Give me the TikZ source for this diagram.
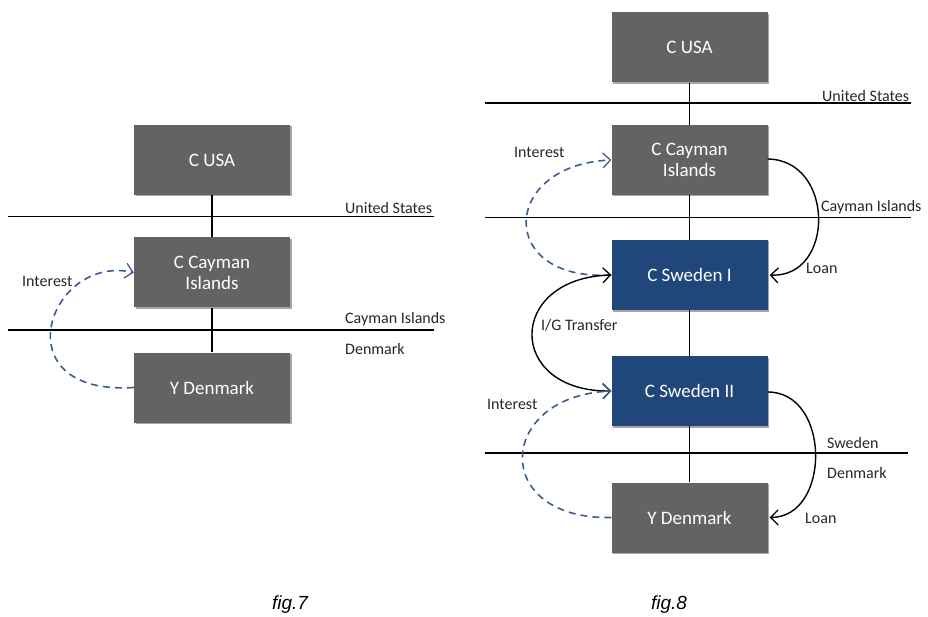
\documentclass[tikz,border=0pt]{standalone}
\usepackage{fontspec}
\setmainfont{Carlito}
\newfontfamily\capfont{Liberation Sans}
\usetikzlibrary{arrows.meta,shadows}
\definecolor{boxgray}{HTML}{636363}
\definecolor{boxblue}{HTML}{214679}
\definecolor{dashblue}{HTML}{3A5D92}
\begin{document}
\begin{tikzpicture}[x=1pt,y=-1pt,
  ent/.style={rectangle, minimum width=156pt, minimum height=70pt, inner sep=0pt,
    text=white, font=\fontsize{19}{21}\selectfont, align=center,
    drop shadow={shadow xshift=1.5pt, shadow yshift=-1.5pt, opacity=0.35, fill=black}},
  grayent/.style={ent, fill=boxgray},
  blueent/.style={ent, fill=boxblue},
  lbl/.style={anchor=west, inner sep=0pt, font=\fontsize{16}{18}\selectfont, text=black!85},
  border/.style={line width=1.4pt, black},
  link/.style={line width=1.4pt, black},
  tip/.style={-{Straight Barb[length=7.5pt,width=15pt,line width=1.3pt]}},
  flowd/.style={line width=1.6pt, dashblue, dash pattern=on 7pt off 5pt, tip},
  flows/.style={line width=1.4pt, black, tip},
  figcap/.style={font=\capfont\itshape\fontsize{19}{21}\selectfont}
]
\useasboundingbox (0,0) rectangle (928,617);

% ---------- fig.7 ----------
\coordinate (a1l) at (8,216.5);  \coordinate (a1r) at (434,216.5);
\coordinate (a2l) at (8,330);    \coordinate (a2r) at (434,330);
\draw[border] (a1l) -- (a1r);
\draw[border] (a2l) -- (a2r);
\node[grayent] (ausa) at (212,160) {C USA};
\node[grayent] (acay) at (212,272.5) {C Cayman\\Islands};
\node[grayent] (aden) at (212,387.5) {Y Denmark};
\draw[link] (ausa.south) -- (acay.north);
\draw[link] (acay.south) -- (aden.north);
\draw[flowd] (aden.west) .. controls (0,396) and (48,254) .. (acay.west);
\node[lbl] (aint) at (22,281) {Interest};
\node[lbl] (aus) at (345,208) {United States};
\node[lbl] (acayl) at (345,319) {Cayman Islands};
\node[lbl] (adenl) at (345,349) {Denmark};
\node[figcap] (fig7) at (290,605) {fig.7};

% ---------- fig.8 ----------
\coordinate (b1l) at (485,103);   \coordinate (b1r) at (911,103);
\coordinate (b2l) at (485,217.5); \coordinate (b2r) at (911,217.5);
\coordinate (b3l) at (485,453);   \coordinate (b3r) at (908,453);
\draw[border] (b1l) -- (b1r);
\draw[border] (b2l) -- (b2r);
\draw[border] (b3l) -- (b3r);
\node[grayent] (busa) at (689.5,47.5) {C USA};
\node[grayent] (bcay) at (689.5,160) {C Cayman\\Islands};
\node[blueent] (bsw1) at (689.5,275) {C Sweden I};
\node[blueent] (bsw2) at (689.5,391) {C Sweden II};
\node[grayent] (bden) at (689.5,517.5) {Y Denmark};
\draw[link] (busa.south) -- (bcay.north);
\draw[link] (bcay.south) -- (bsw1.north);
\draw[link] (bsw1.south) -- (bsw2.north);
\draw[link] (bsw2.south) -- (bden.north);
\draw[flowd] (bsw1.west) .. controls (496,282) and (500,165) .. (bcay.west);
\draw[flows] ([yshift=1pt]bcay.east) .. controls (835,160) and (835,278) .. ([xshift=2pt]bsw1.east);
\draw[flows, {Straight Barb[length=7.5pt,width=15pt,line width=1.3pt]}-{Straight Barb[length=7.5pt,width=15pt,line width=1.3pt]}] (bsw1.west) .. controls (506,278) and (506,392) .. (bsw2.west);
\draw[flowd] (bden.west) .. controls (490,520) and (496,396) .. (bsw2.west);
\draw[flows] ([yshift=-1pt]bsw2.east) .. controls (831,392) and (831,517) .. ([xshift=2pt]bden.east);
\node[lbl] (bus) at (822,96) {United States};
\node[lbl] (bint1) at (514,152) {Interest};
\node[lbl] (bcayl) at (821,207) {Cayman Islands};
\node[lbl] (bloan1) at (806,268) {Loan};
\node[lbl] (big) at (541,325) {I/G Transfer};
\node[lbl] (bint2) at (487,404) {Interest};
\node[lbl] (bswl) at (827,443) {Sweden};
\node[lbl] (bdenl) at (827,473) {Denmark};
\node[lbl] (bloan2) at (805,518) {Loan};
\node[figcap] (fig8) at (669,605) {fig.8};
\end{tikzpicture}
\end{document}
